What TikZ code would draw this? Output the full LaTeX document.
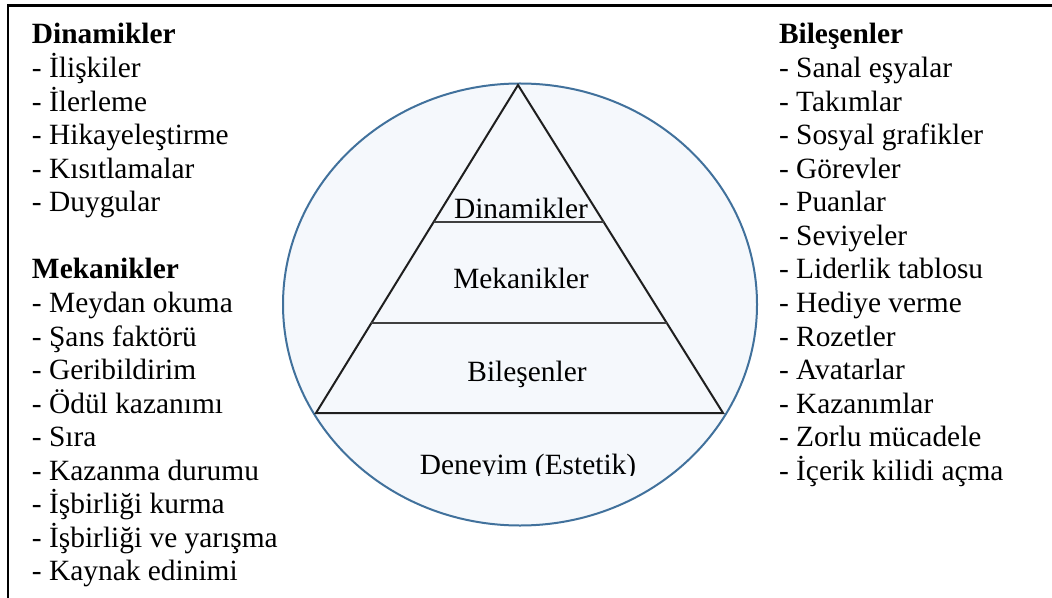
\documentclass[tikz,border=0pt]{standalone}
\usepackage{fontspec}
\setmainfont{Liberation Serif}
\newfontfamily\tnr{Liberation Serif}
\usetikzlibrary{calc}
\definecolor{rim}{HTML}{41719C}
\definecolor{wash}{HTML}{F5F8FC}
\begin{document}
\begin{tikzpicture}[x=0.5pt,y=-0.5pt,
  every node/.style={font=\tnr\fontsize{14.7pt}{16.8pt}\selectfont, inner sep=0pt, outer sep=0pt},
  listitem/.style={anchor=base west},
  listhead/.style={anchor=base west, font=\tnr\fontsize{14.7pt}{16.8pt}\selectfont\bfseries},
  layer/.style={anchor=base},
  pyramid/.style={line width=1pt, draw=black!88, line join=miter},
  divider/.style={line width=0.7pt, draw=black!75}]
\useasboundingbox (0,0) rectangle (1052,598);

% open frame: top and left edges only
\coordinate (frameBL) at (8,598);
\coordinate (frameTL) at (8,5.5);
\coordinate (frameTR) at (1052,5.5);
\draw[line width=1.4pt] (frameBL) -- (frameTL) -- (frameTR);

% experience ellipse
\draw[rim, fill=wash, line width=1pt] (520,304.5) ellipse [x radius=118.5pt, y radius=110.5pt];

% pyramid
\coordinate (apex) at (518,85);
\coordinate (bl) at (316,413);
\coordinate (br) at (723,413);
\draw[pyramid] (apex) -- (bl) -- (br) -- cycle;
\coordinate (l1) at ($(apex)!0.4177!(bl)$);
\coordinate (r1) at ($(apex)!0.4177!(br)$);
\coordinate (l2) at ($(apex)!0.7256!(bl)$);
\coordinate (r2) at ($(apex)!0.7256!(br)$);
\draw[divider] (l1) -- (r1);
\draw[divider] (l2) -- (r2);

% layer labels
\node[layer] (tDin) at (521,219) {Dinamikler};
\node[layer] (tMek) at (521,288) {Mekanikler};
\node[layer] (tBil) at (527,381) {Bileşenler};
\begin{scope}
  \clip (300,420) rectangle (760,475.5);
  \node[layer] (tDen) at (528,474) {Deneyim (Estetik)};
\end{scope}

% left column
\node[listhead] (dinHead) at (32,44) {Dinamikler};
\foreach \t [count=\i] in {İlişkiler,İlerleme,Hikayeleştirme,Kısıtlamalar,Duygular}
  \node[listitem] (din\i) at (32,44+33.56*\i) {- \t};
\node[listhead] (mekHead) at (32,44+33.56*7) {Mekanikler};
\foreach \t [count=\i] in {Meydan okuma,Şans faktörü,Geribildirim,Ödül kazanımı,Sıra,Kazanma durumu,İşbirliği kurma,İşbirliği ve yarışma,Kaynak edinimi}
  \node[listitem] (mek\i) at (32,44+33.56*7+33.56*\i) {- \t};

% right column
\node[listhead] (bilHead) at (779,44) {Bileşenler};
\foreach \t [count=\i] in {Sanal eşyalar,Takımlar,Sosyal grafikler,Görevler,Puanlar,Seviyeler,Liderlik tablosu,Hediye verme,Rozetler,Avatarlar,Kazanımlar,Zorlu mücadele,İçerik kilidi açma}
  \node[listitem] (bil\i) at (779,44+33.56*\i) {- \t};
\end{tikzpicture}
\end{document}
